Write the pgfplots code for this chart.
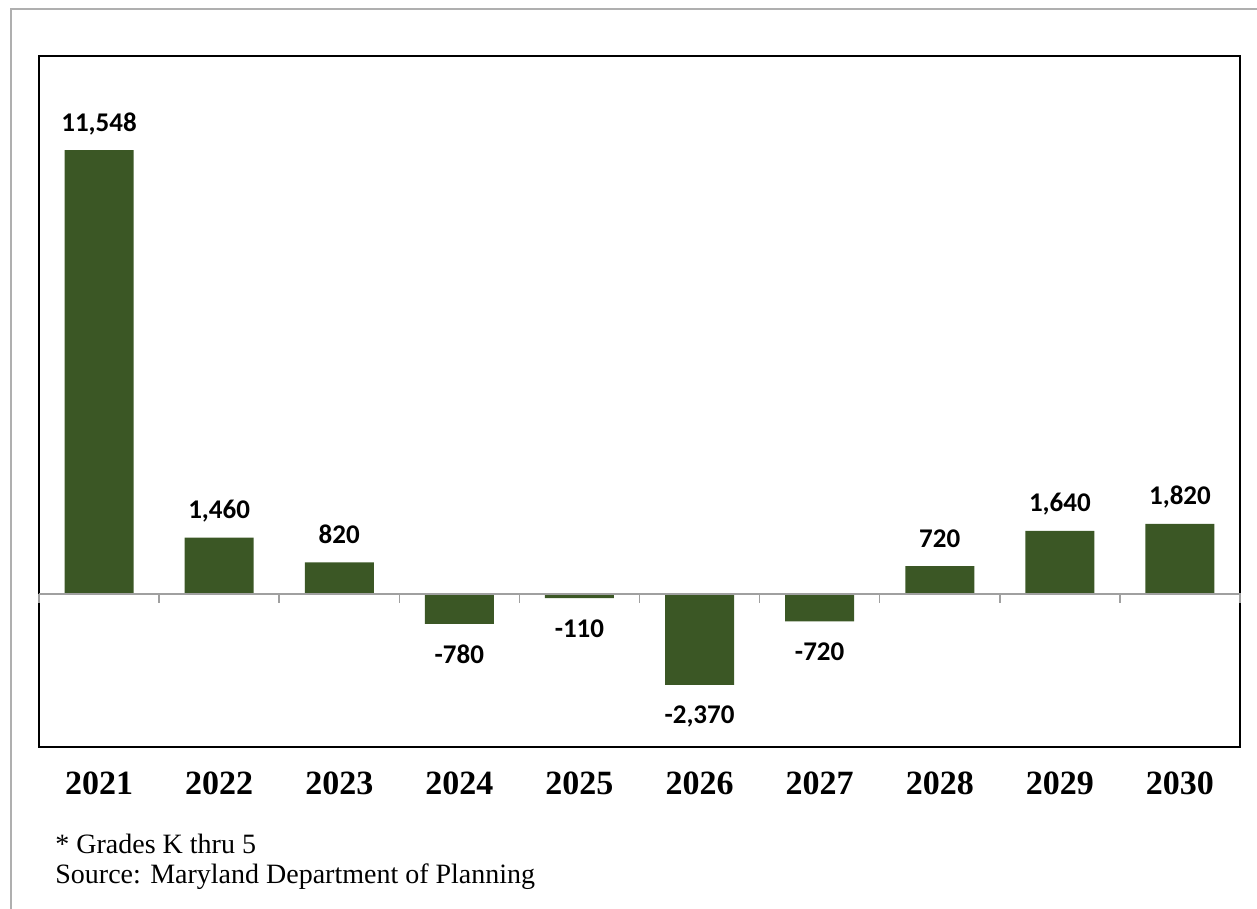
\documentclass[border=0pt]{standalone}
\usepackage{fontspec}
\setmainfont{Liberation Serif}
\newfontfamily\carlito{Carlito}
\usepackage{pgfplots}
\pgfplotsset{compat=1.18}
\definecolor{barG}{RGB}{59,87,37}
\definecolor{frameG}{RGB}{175,175,175}
\definecolor{zeroG}{RGB}{160,160,160}

\begin{document}
\begin{tikzpicture}
\useasboundingbox (-19.5pt,-80.75pt) rectangle (609pt,373.75pt);
\draw[frameG, line width=1pt] (-14pt,-80.75pt) -- (-14pt,369.25pt) -- (609pt,369.25pt);
\begin{axis}[
  at={(0pt,0pt)}, anchor=south west,
  scale only axis, width=600.5pt, height=345.75pt,
  ybar, bar width=34.5pt, bar shift=0pt,
  xmin=-0.5, xmax=9.5, ymin=-4000, ymax=14000,
  xtick={0,...,9},
  xticklabels={2021,2022,2023,2024,2025,2026,2027,2028,2029,2030},
  x tick label style={font=\fontsize{17}{17}\selectfont\bfseries, anchor=center, yshift=-17.75pt},
  major tick length=0pt,
  ytick=\empty,
  axis line style={black, line width=1pt},
  clip=false,
]
% positive changes
\addplot[fill=barG, draw=none, nodes near coords, point meta=explicit symbolic,
  nodes near coords style={anchor=base, inner sep=0pt, yshift=9.5pt,
    font=\carlito\bfseries\fontsize{13.5}{13.5}\selectfont}]
  coordinates {(0,11548)[11,548] (1,1460)[1,460] (2,820)[820]
               (7,720)[720] (8,1640)[1,640] (9,1820)[1,820]};
% negative changes
\addplot[fill=barG, draw=none, nodes near coords, point meta=explicit symbolic,
  nodes near coords style={anchor=north, inner sep=0pt, yshift=-10.5pt,
    font=\carlito\bfseries\fontsize{13.5}{13.5}\selectfont}]
  coordinates {(3,-780)[-780] (4,-110)[-110] (5,-2370)[-2,370] (6,-720)[-720]};
\draw[zeroG, line width=0.75pt] (axis cs:-0.5,0) -- ([xshift=0.5pt]axis cs:9.5,0);
\pgfplotsinvokeforeach{-0.5,0.5,1.5,2.5,3.5,4.5,5.5,6.5,7.5,8.5,9.5}{
  \draw[zeroG, line width=0.75pt] (axis cs:#1,0) -- ([yshift=-4.5pt]axis cs:#1,0);
}
\end{axis}
\node[anchor=base west, inner sep=0pt, font=\fontsize{14}{14}\selectfont] at (8pt,-52.75pt) {* Grades K thru 5};
\node[anchor=base west, inner sep=0pt, font=\fontsize{14}{14}\selectfont] at (8pt,-67.75pt) {Source: Maryland Department of Planning};
\end{tikzpicture}
\end{document}
